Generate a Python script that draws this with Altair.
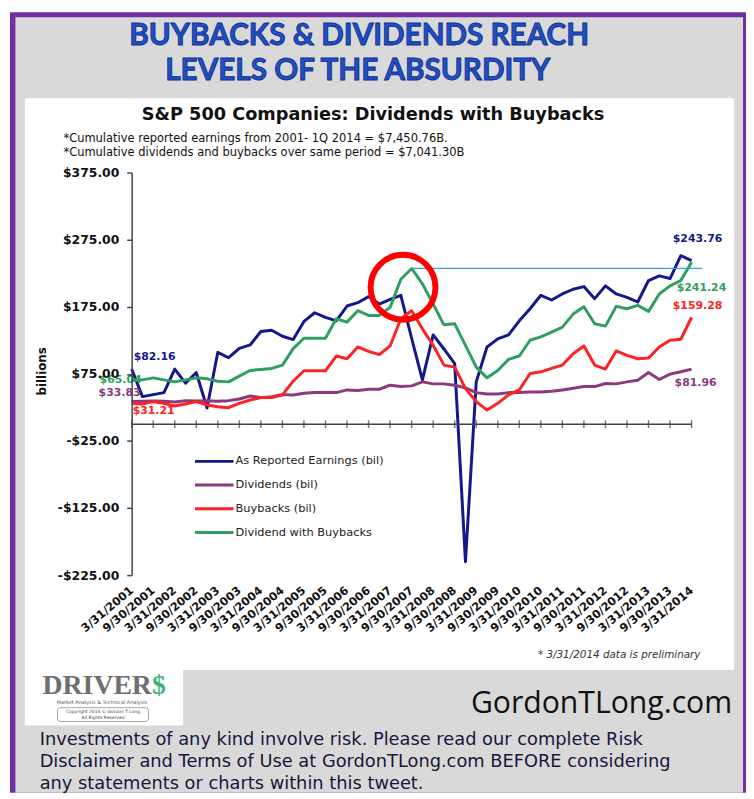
import json
import altair as alt
import pandas as pd

# ---------------- data ----------------
quarters = []
for yr in range(2001, 2015):
    for md in ["3/31", "6/30", "9/30", "12/31"]:
        quarters.append(f"{md}/{yr}")
quarters = quarters[:53]
tick_labels = quarters[::2]

series_names = ["As Reported Earnings (bil)", "Dividends (bil)", "Buybacks (bil)", "Dividend with Buybacks"]
series_colors = ["#13188a", "#8b3a7d", "#ff2222", "#2f9e60"]

earnings = [82.16, 41, 44, 47, 82, 61, 77, 24, 107, 99, 113, 118, 138, 140, 131, 126,
            153, 166, 159, 154, 176, 181, 190, 179, 186, 192, 128, 66, 133, 112, 90, -205,
            63, 115, 127, 133, 154, 172, 192, 185, 194, 201, 205, 187, 206, 194, 189, 182,
            214, 221, 217, 251, 243.76]
dividends = [33.83, 34, 34.5, 34, 33, 35, 34.5, 35, 34, 35, 37.5, 42, 39.5, 41, 44, 43.5,
             46, 47, 47, 47, 51, 50, 52, 52, 58, 56, 57, 63, 60, 60, 58, 54,
             47, 45, 45, 47, 47, 48, 48, 49, 51, 53.5, 56, 56, 60.5, 60, 63, 65.5,
             77, 66.5, 74.5, 78, 81.96]
buybacks = [31.21, 30, 33.5, 31, 27, 30, 33.5, 28.5, 26, 24.5, 31, 36, 39.5, 39.5, 43.5, 64,
            79.5, 79.5, 79.5, 101.5, 97.5, 115, 108.5, 103.5, 116.5, 157, 169, 142, 117.5, 88, 85, 53,
            33.5, 21, 31, 43.5, 51, 75.5, 78, 83, 88, 105, 116.5, 88, 82, 109, 102.5, 97.5,
            98.5, 115, 125, 126.5, 159.28]
div_with_buybacks = [65.04, 66, 69, 66, 63, 66, 69, 67.5, 64, 63, 71.5, 80, 81.5, 83, 88, 112.5,
                     128, 128, 128, 157, 152, 169, 162, 162, 174, 216, 232, 209, 179, 148, 149.5, 117.5,
                     85, 69, 80, 96.5, 101.5, 125, 130, 137, 144.5, 164, 175, 149.5, 146, 175.5, 172, 177,
                     168, 194, 206, 214, 241.24]

all_series = [earnings, dividends, buybacks, div_with_buybacks]

y_ticks = [375, 275, 175, 75, -25, -125, -225]

# annotation data
circle_quarter = 25.2
circle_value = 204
peak_quarter = 26
peak_value = div_with_buybacks[26]
peak_line_end = 53

# end-point value labels: (series index, quarter index, text, dx, dy, align)
value_labels = [
    (0, 0, "$82.16", 2, -12, "left"),
    (3, 0, "$65.04", 10, 0, "right"),
    (1, 0, "$33.83", 9, -8, "right"),
    (2, 0, "$31.21", 1, 8, "left"),
    (0, 52, "$243.76", 6, -22, "center"),
    (3, 52, "$241.24", 10, 26, "center"),
    (2, 52, "$159.28", 6, -11, "center"),
    (1, 52, "$81.96", 4, 14, "center"),
]

rows = []
for k, (name, vals) in enumerate(zip(series_names, all_series)):
    for i, v in enumerate(vals):
        rows.append({"i": i, "quarter": quarters[i], "series": name, "value": v, "k": k})
df = pd.DataFrame(rows)

# ---------------- scales / axes ----------------
CF = "DejaVu Sans"
xs = alt.Scale(domain=[0, 52], nice=False, zero=False)
ys = alt.Scale(domain=[-225, 375], nice=False, zero=False)

x_axis = alt.Axis(
    values=list(range(0, 53, 2)),
    labelExpr=f"{json.dumps(tick_labels)}[round(datum.value / 2)]",
    labelAngle=-40, labelAlign="right", labelBaseline="middle",
    labelFont=CF, labelFontWeight="bold", labelFontSize=11.5, labelColor="#111111",
    labelPadding=14, labelOverlap=False, labelFlush=False, labelBound=False,
    ticks=False, tickSize=0, domain=False, grid=False, title=None, zindex=1,
)
y_axis = alt.Axis(
    values=y_ticks,
    labelExpr="(datum.value < 0 ? '-' : '') + '$' + format(abs(datum.value), ',.2f')",
    labelFont=CF, labelFontWeight="bold", labelFontSize=12.5, labelColor="#111111",
    labelPadding=8, tickSize=5, tickWidth=1.5, tickColor="#444444",
    domainColor="#444444", domainWidth=1.5, grid=False, title=None, zindex=1,
    labelOverlap=False,
)


def X(field):
    return alt.X(field, scale=xs, axis=x_axis)


def Y(field):
    return alt.Y(field, scale=ys, axis=y_axis)


dummy = pd.DataFrame({"d": [0]})


def txt(s, x, y, size, font=CF, weight="normal", color="#111111", align="left",
        baseline="alphabetic", style="normal", angle=None, **kw):
    mk = dict(font=font, fontSize=size, fontWeight=weight, color=color, align=align,
              baseline=baseline, fontStyle=style)
    if angle is not None:
        mk["angle"] = angle
    mk.update(kw)
    return alt.Chart(dummy).mark_text(**mk).encode(
        x=alt.value(x), y=alt.value(y), text=alt.value(s))


def box(x, x2, y, y2, color, **kw):
    return alt.Chart(dummy).mark_rect(color=color, **kw).encode(
        x=alt.value(x), x2=alt.value(x2), y=alt.value(y), y2=alt.value(y2))


layers = []
# frame & panels
layers.append(box(-125, 621, -162, 627, "#ffffff"))
layers.append(box(-123, 621, -162, 627, "#7030a0"))
layers.append(box(-117.5, 618, -157, 627, "#d9d9d9"))
layers.append(box(-108, 609, -75, 503, "#ffffff"))
layers.append(box(-108, 52, 503, 559, "#ffffff"))

# headline
head_kw = dict(font="Lato", weight="bold", color="#1f4fc4", align="center", stroke="#10308f", strokeWidth=0.9)
layers.append(txt("BUYBACKS & DIVIDENDS REACH", 230, -129, 30, **head_kw))
layers.append(txt("LEVELS OF THE ABSURDITY", 228.5, -93, 30, **head_kw))

# chart title / notes
layers.append(txt("S&P 500 Companies: Dividends with Buybacks", 244, -53, 17.9, weight="bold", align="center"))
layers.append(txt("*Cumulative reported earnings from 2001- 1Q 2014 = $7,450.76B.", -69, -30.5, 11.6))
layers.append(txt("*Cumulative dividends and buybacks over same period = $7,041.30B", -69, -16.8, 11.6))
layers.append(txt("billions", -91, 201, 12, weight="bold", align="center", baseline="middle", angle=270))
layers.append(txt("* 3/31/2014 data is preliminary", 575, 491, 10.5, style="italic", align="right", color="#333333"))

# axis line at zero with crossing ticks
zero_line = pd.DataFrame({"i": [0], "i2": [52], "value": [0]})
tick_df = pd.DataFrame({"i": list(range(0, 53, 2)), "value": [0] * 27})

# series lines
layers.append(alt.Chart(df).mark_line(strokeWidth=3, strokeJoin="round").encode(
    x=X("i:Q"),
    y=Y("value:Q"),
    color=alt.Color("series:N", scale=alt.Scale(domain=series_names, range=series_colors), legend=None),
    detail="k:N",
))
layers.append(alt.Chart(zero_line).mark_rule(color="#444444", strokeWidth=1.5).encode(
    x=X("i:Q"), x2="i2:Q", y=Y("value:Q")))
layers.append(alt.Chart(tick_df).mark_tick(orient="vertical", size=8, thickness=1.5, color="#444444").encode(
    x=X("i:Q"), y=Y("value:Q")))

# prior peak line
peak_df = pd.DataFrame({"i": [peak_quarter], "i2": [peak_line_end], "value": [peak_value]})
layers.append(alt.Chart(peak_df).mark_rule(color="#33a3d6", strokeWidth=1.2).encode(
    x=X("i:Q"), x2="i2:Q", y=Y("value:Q")))

# red circle
circ_df = pd.DataFrame({"i": [circle_quarter], "value": [circle_value]})
layers.append(alt.Chart(circ_df).mark_point(shape="circle", size=4300, filled=False, color="#ff0000",
                                            strokeWidth=6, opacity=1).encode(
    x=X("i:Q"), y=Y("value:Q")))

# value labels
for k, qi, s, dx, dy, al in value_labels:
    ldf = pd.DataFrame({"i": [qi], "value": [all_series[k][qi]], "label": [s]})
    layers.append(alt.Chart(ldf).mark_text(font=CF, fontWeight="bold", fontSize=11, color=series_colors[k],
                                           align=al, baseline="middle", dx=dx, dy=dy).encode(
        x=X("i:Q"), y=Y("value:Q"), text="label:N"))

# legend
legend_y = [292, 316, 340, 364]
for name, col, ly in zip(series_names, series_colors, legend_y):
    layers.append(alt.Chart(dummy).mark_rule(color=col, strokeWidth=3).encode(
        x=alt.value(64), x2=alt.value(103), y=alt.value(ly)))
    layers.append(txt(name, 105, ly, 11.5, baseline="middle", color="#222222"))

# footer
layers.append(txt("DRIVER", -90, 527, 28, font="Liberation Serif", weight="bold", color="#6f6f6f"))
layers.append(txt("$", 20.5, 527, 28, font="Liberation Serif", weight="bold", color="#3cb371"))
layers.append(txt("Market Analysis & Technical Analysis", -30, 537.5, 5, align="center", color="#555555"))
layers.append(alt.Chart(dummy).mark_rect(fill="#ffffff", stroke="#666666", strokeWidth=0.6, cornerRadius=3).encode(
    x=alt.value(-75), x2=alt.value(17), y=alt.value(541), y2=alt.value(555)))
layers.append(txt("Copyright 2014 \u00a9 Gordon T Long", -29, 546.5, 4.5, align="center", color="#444444"))
layers.append(txt("All Rights Reserved", -29, 552.5, 4.5, align="center", color="#444444"))
layers.append(txt("GordonTLong.com", 607, 546, 30.5, font="Open Sans", color="#111111", align="right"))
disc_kw = dict(font="DejaVu Sans", color="#17173a")
layers.append(txt("Investments of any kind involve  risk. Please read our complete  Risk", -93, 579, 18, **disc_kw))
layers.append(txt("Disclaimer and Terms of Use at GordonTLong.com  BEFORE considering", -93, 601, 18, **disc_kw))
layers.append(txt("any statements or charts within this tweet.", -93, 623, 18, **disc_kw))

chart = alt.layer(*layers).properties(width=566, height=407, padding=0, background="#ffffff").configure_view(
    stroke="transparent").configure_axisX(labelOverlap=False)

chart.save("out.html", embed_options={"renderer": "svg", "actions": False})
